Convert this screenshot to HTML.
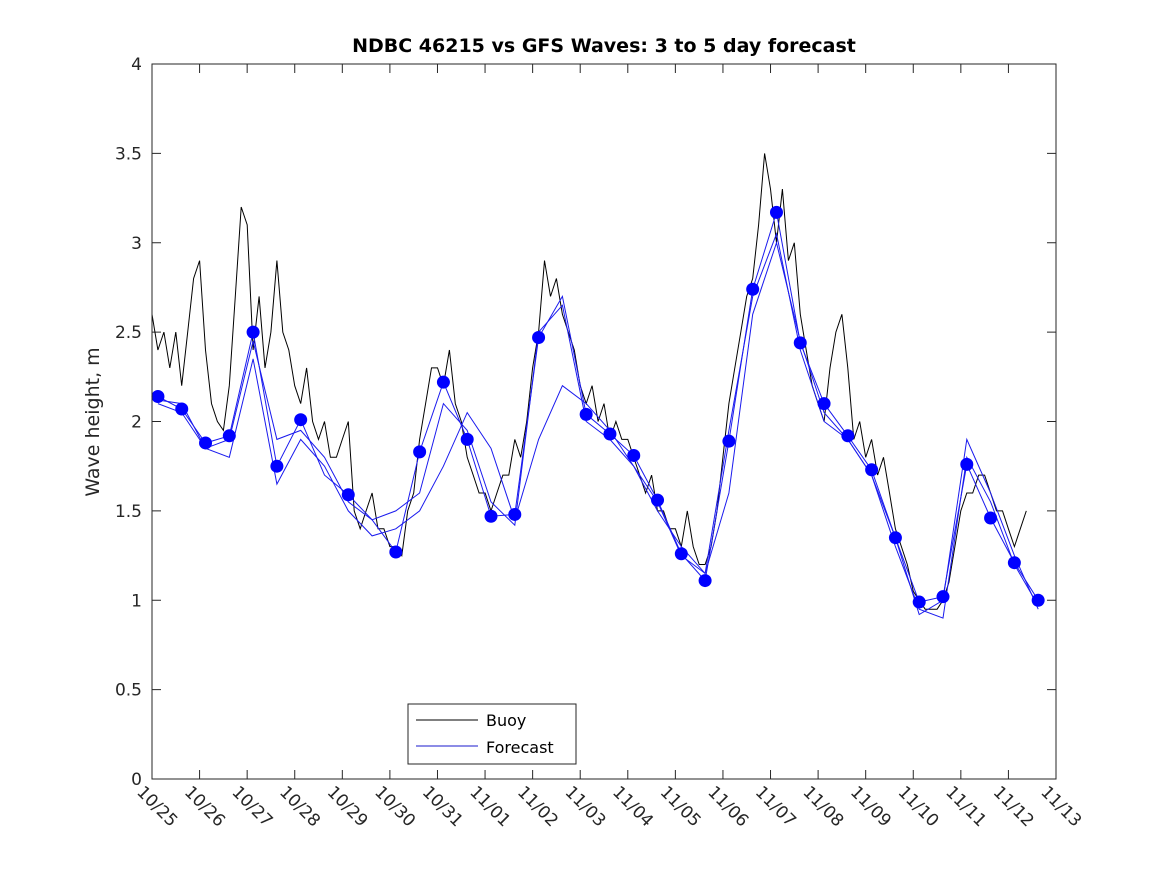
<!DOCTYPE html>
<html><head><meta charset="utf-8"><style>
body{margin:0;background:#fff;}
svg{display:block;font-family:"DejaVu Sans","Liberation Sans",sans-serif;}
</style></head><body>
<svg id="chart" width="1167" height="875">
<rect width="1167" height="875" fill="#fff"/>
<text x="604" y="52" text-anchor="middle" font-size="19" font-weight="bold" fill="#000">NDBC 46215 vs GFS Waves: 3 to 5 day forecast</text>
<text transform="translate(99,422) rotate(-90)" text-anchor="middle" font-size="19" fill="#262626">Wave height, m</text>
<g id="grid"></g>
<g id="series"></g>
<rect x="152" y="64" width="904" height="715" fill="none" stroke="#262626" stroke-width="1"/>
<g>
<rect x="408" y="704" width="168" height="60" fill="#fff" stroke="#262626"/>
<line x1="416" y1="720" x2="478" y2="720" stroke="#000"/>
<text x="486" y="726" font-size="16" fill="#000">Buoy</text>
<line x1="416" y1="746" x2="478" y2="746" stroke="#1a1acc"/>
<text x="486" y="753" font-size="16" fill="#000">Forecast</text>
</g>
</svg>
<script>
const xTicks=["10/25","10/26","10/27","10/28","10/29","10/30","10/31","11/01","11/02","11/03","11/04","11/05","11/06","11/07","11/08","11/09","11/10","11/11","11/12","11/13"];
const yTicks=[0,0.5,1,1.5,2,2.5,3,3.5,4];
// buoy: every 3 hours starting 10/25 00:00
const buoy=[2.6,2.4,2.5,2.3,2.5,2.2,2.5,2.8,
2.9,2.4,2.1,2.0,1.95,2.2,2.7,3.2,
3.1,2.4,2.7,2.3,2.5,2.9,2.5,2.4,
2.2,2.1,2.3,2.0,1.9,2.0,1.8,1.8,
1.9,2.0,1.5,1.4,1.5,1.6,1.4,1.4,
1.3,1.3,1.25,1.5,1.6,1.9,2.1,2.3,
2.3,2.2,2.4,2.1,2.0,1.8,1.7,1.6,
1.6,1.5,1.6,1.7,1.7,1.9,1.8,2.0,
2.3,2.5,2.9,2.7,2.8,2.6,2.5,2.4,
2.2,2.1,2.2,2.0,2.1,1.9,2.0,1.9,
1.9,1.8,1.7,1.6,1.7,1.5,1.5,1.4,
1.4,1.3,1.5,1.3,1.2,1.2,1.3,1.5,
1.8,2.1,2.3,2.5,2.7,2.8,3.1,3.5,
3.3,3.0,3.3,2.9,3.0,2.6,2.4,2.2,
2.1,2.0,2.3,2.5,2.6,2.3,1.9,2.0,
1.8,1.9,1.7,1.8,1.6,1.4,1.3,1.2,
1.05,1.0,0.95,0.95,0.95,1.0,1.1,1.3,
1.5,1.6,1.6,1.7,1.7,1.6,1.5,1.5,
1.4,1.3,1.4,1.5];
// forecast: every 12 hours starting 10/25 03:00
const fcMain=[2.14,2.07,1.88,1.92,2.5,1.75,2.01,1.7,1.59,1.45,1.27,1.83,2.22,1.9,1.47,1.48,2.47,2.7,2.04,1.93,1.81,1.56,1.26,1.11,1.89,2.74,3.17,2.44,2.1,1.92,1.73,1.35,0.99,1.02,1.76,1.46,1.21,1.0];
const fcLow=[2.12,2.1,1.85,1.8,2.35,1.65,1.9,1.75,1.5,1.36,1.4,1.5,1.75,2.05,1.85,1.45,1.9,2.2,2.1,1.95,1.75,1.5,1.3,1.15,1.6,2.6,3.0,2.45,2.05,1.9,1.7,1.3,0.95,0.9,1.8,1.55,1.2,0.97];
const fcHigh=[2.1,2.05,1.85,1.9,2.45,1.9,1.95,1.8,1.55,1.45,1.5,1.6,2.1,1.95,1.55,1.42,2.5,2.65,2.0,1.9,1.75,1.55,1.25,1.15,1.95,2.7,3.05,2.4,2.0,1.9,1.7,1.35,0.92,1.0,1.9,1.6,1.25,0.95];
const markerIdx=[0,1,2,3,4,5,6,8,10,11,12,13,14,15,16,18,19,20,21,22,23,24,25,26,27,28,29,30,31,32,33,34,35,36,37];

const X0=152,X1=1056,Y0=779,Y1=64,NS="http://www.w3.org/2000/svg";
const xs=d=>X0+d*(X1-X0)/19;
const ys=v=>Y0-v*(Y0-Y1)/4;
function mk(t,a,p){const e=document.createElementNS(NS,t);for(const k in a)e.setAttribute(k,a[k]);p.appendChild(e);return e;}
const g=document.getElementById('grid'),s=document.getElementById('series');
yTicks.forEach(v=>{const y=ys(v);
 const t=mk('line',{x1:X0,x2:X0+9,y1:y,y2:y,stroke:'#262626'},g);
 
 
 mk('line',{x1:X1-9,x2:X1,y1:y,y2:y,stroke:'#262626'},g);
 const l=mk('text',{x:X0-10,y:y+6,'text-anchor':'end','font-size':17,fill:'#262626'},g);
 l.textContent=String(v);
 
 
});
xTicks.forEach((lab,i)=>{const x=xs(i);
 mk('line',{x1:x,x2:x,y1:Y0,y2:Y0-9,stroke:'#262626'},g);
 mk('line',{x1:x,x2:x,y1:Y1,y2:Y1+9,stroke:'#262626'},g);
 const l=mk('text',{transform:`translate(${x-16},${Y0+14}) rotate(45)`,'font-size':17,fill:'#262626'},g);
 l.textContent=lab;
 
 
});
const bp=buoy.map((v,i)=>`${xs(i/8).toFixed(1)},${ys(v).toFixed(1)}`).join(' ');
const bl=mk('polyline',{points:bp,fill:'none',stroke:'#000','stroke-width':1},s);


[fcMain,fcLow,fcHigh].forEach((arr,j)=>{
 const p=arr.map((v,i)=>`${xs(0.125+i*0.5).toFixed(1)},${ys(v).toFixed(1)}`).join(' ');
 const l=mk('polyline',{points:p,fill:'none',stroke:'#1a1aee','stroke-width':1},s);
 
 
});
markerIdx.forEach(i=>{
 const c=mk('circle',{cx:xs(0.125+i*0.5),cy:ys(fcMain[i]),r:6.5,fill:'#0000ff'},s);
 
 
});
</script>
</body></html>
